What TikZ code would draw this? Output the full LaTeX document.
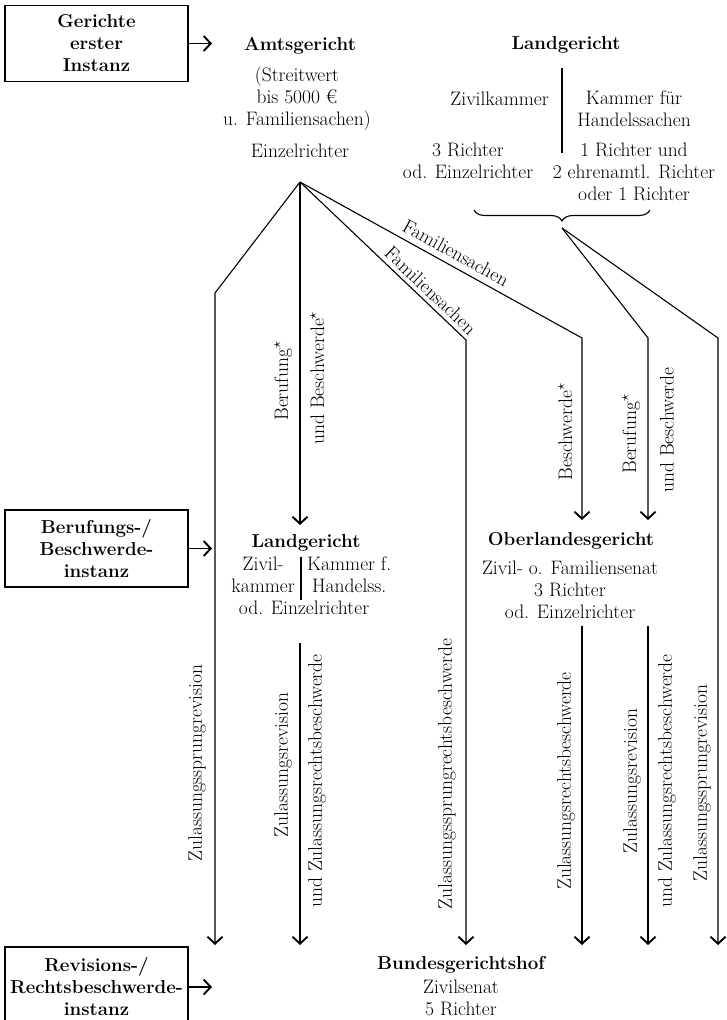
\documentclass[tikz,border=0pt]{standalone}
\usetikzlibrary{arrows.meta,decorations.pathreplacing}
\newcommand\dgfs{\fontsize{19.5}{22}\selectfont}
\newcommand\dgbf{\fontsize{18.7}{22}\selectfont\bfseries}
\begin{document}
\begin{tikzpicture}[x=1pt,y=-1pt,
  every node/.style={inner sep=0pt},
  txt/.style={font=\dgfs, align=center},
  court/.style={font=\dgbf, align=center},
  inst/.style={draw, line width=1.1pt, minimum width=183pt, minimum height=76pt,
    font=\dgbf, align=center},
  vlab/.style={rotate=90, font=\dgfs},
  conn/.style={line width=1.1pt},
  arr/.style={conn, -{Straight Barb[length=7pt,width=15pt,line width=1.9pt]}}]
\useasboundingbox (0,0) rectangle (726,1020);
\fill[white] (0,0) rectangle (726,1020);

% --- first instance ---
\node[inst] (box1) at (96.5,43.5) {Gerichte\\erster\\Instanz};
\coordinate (a1) at (212,43.5);
\draw[arr] (box1.east) -- (a1);

\node[court] (amts) at (300,46) {Amtsgericht};
\node[txt] (amtsd) at (297,99) {(Streitwert\\bis 5000 €\\u. Familiensachen)};
\node[txt] (amtse) at (300,151) {Einzelrichter};
\coordinate (apex) at (300,182);

\node[court] (lg1) at (566,45) {Landgericht};
\coordinate (d1t) at (562,68);
\coordinate (d1b) at (562,153);
\draw[line width=1.1pt] (d1t) -- (d1b);
\node[txt, anchor=east] (zk) at (549,99) {Zivilkammer};
\node[txt] (kfh) at (634,109) {Kammer für\\Handelssachen};
\node[txt] (zkr) at (468,161) {3 Richter\\od. Einzelrichter};
\node[txt] (kfhr) at (634,172) {1 Richter und\\2 ehrenamtl. Richter\\oder 1 Richter};
\coordinate (brl) at (474,210);
\coordinate (brr) at (650,210);
\draw[conn, decorate, decoration={brace, amplitude=11pt, mirror}] (brl) -- (brr);
\coordinate (lgtip) at (562,228);

% --- fan lines ---
\coordinate (b1) at (215,293);
\coordinate (e1) at (215,945);
\draw[arr] (apex) -- (b1) -- (e1);

\coordinate (e2) at (300,525);
\draw[arr] (apex) -- (e2);
\node[vlab] (ber1) at (283,381) {Berufung$^\star$};
\node[vlab] (ube1) at (317,378) {und Beschwerde$^\star$};

\coordinate (b3) at (466,340);
\coordinate (e3) at (466,945);
\draw[arr] (apex) -- node[sloped, above=4pt, pos=0.74, font=\dgfs] (fam1) {Familiensachen} (b3) -- (e3);

\coordinate (b4) at (582,338);
\coordinate (e4) at (582,520);
\draw[arr] (apex) -- node[sloped, above=6pt, pos=0.53, font=\dgfs] (fam2) {Familiensachen} (b4) -- (e4);
\node[vlab] (bes4) at (565,432) {Beschwerde$^\star$};

\coordinate (b5) at (648,338);
\coordinate (e5) at (648,520);
\draw[arr] (lgtip) -- (b5) -- (e5);
\node[vlab] (ber5) at (631,434) {Berufung$^\star$};
\node[vlab] (ube5) at (667,430) {und Beschwerde};

\coordinate (b6) at (718,338);
\coordinate (e6) at (718,945);
\draw[arr] (lgtip) -- (b6) -- (e6);

% --- second instance ---
\node[inst, minimum height=77pt] (box2) at (96.5,548.5) {Berufungs-/\\Beschwerde-\\instanz};
\coordinate (a2) at (212,548.5);
\draw[arr] (box2.east) -- (a2);

\node[court] (lg2) at (306,543) {Landgericht};
\coordinate (d2t) at (301,557);
\coordinate (d2b) at (301,600);
\draw[line width=1.1pt] (d2t) -- (d2b);
\node[txt, anchor=east] (zk2) at (295,575) {Zivil-\\kammer};
\node[txt, anchor=west] (kfh2) at (307,575) {Kammer f.\\Handelss.};
\node[txt] (lg2e) at (304,608) {od. Einzelrichter};

\node[court] (olg) at (571,541) {Oberlandesgericht};
\node[txt] (olgd) at (570,590) {Zivil- o. Familiensenat\\3 Richter\\od. Einzelrichter};

% --- lower arrows ---
\coordinate (s7) at (300,643);
\coordinate (e7) at (300,945);
\draw[arr] (s7) -- (e7);
\coordinate (s8) at (582,626);
\coordinate (e8) at (582,945);
\draw[arr] (s8) -- (e8);
\coordinate (s9) at (648,626);
\coordinate (e9) at (648,945);
\draw[arr] (s9) -- (e9);

\node[vlab] (l1) at (197,763) {Zulassungssprungrevision};
\node[vlab] (l2) at (283,765) {Zulassungsrevision};
\node[vlab] (l3) at (317,781) {und Zulassungsrechtsbeschwerde};
\node[vlab] (l4) at (447,774) {Zulassungssprungrechtsbeschwerde};
\node[vlab] (l5) at (566,781) {Zulassungsrechtsbeschwerde};
\node[vlab] (l6) at (632,781) {Zulassungsrevision};
\node[vlab] (l7) at (667,781) {und Zulassungsrechtsbeschwerde};
\node[vlab] (l8) at (702,783) {Zulassungssprungrevision};

% --- third instance ---
\node[inst, minimum height=80pt] (box3) at (96.5,987) {Revisions-/\\Rechtsbeschwerde-\\instanz};
\coordinate (a3) at (212,987);
\draw[arr] (box3.east) -- (a3);

\node[court] (bgh) at (461,965) {Bundesgerichtshof};
\node[txt] (bghd) at (461,998) {Zivilsenat\\5 Richter};
\end{tikzpicture}
\end{document}
